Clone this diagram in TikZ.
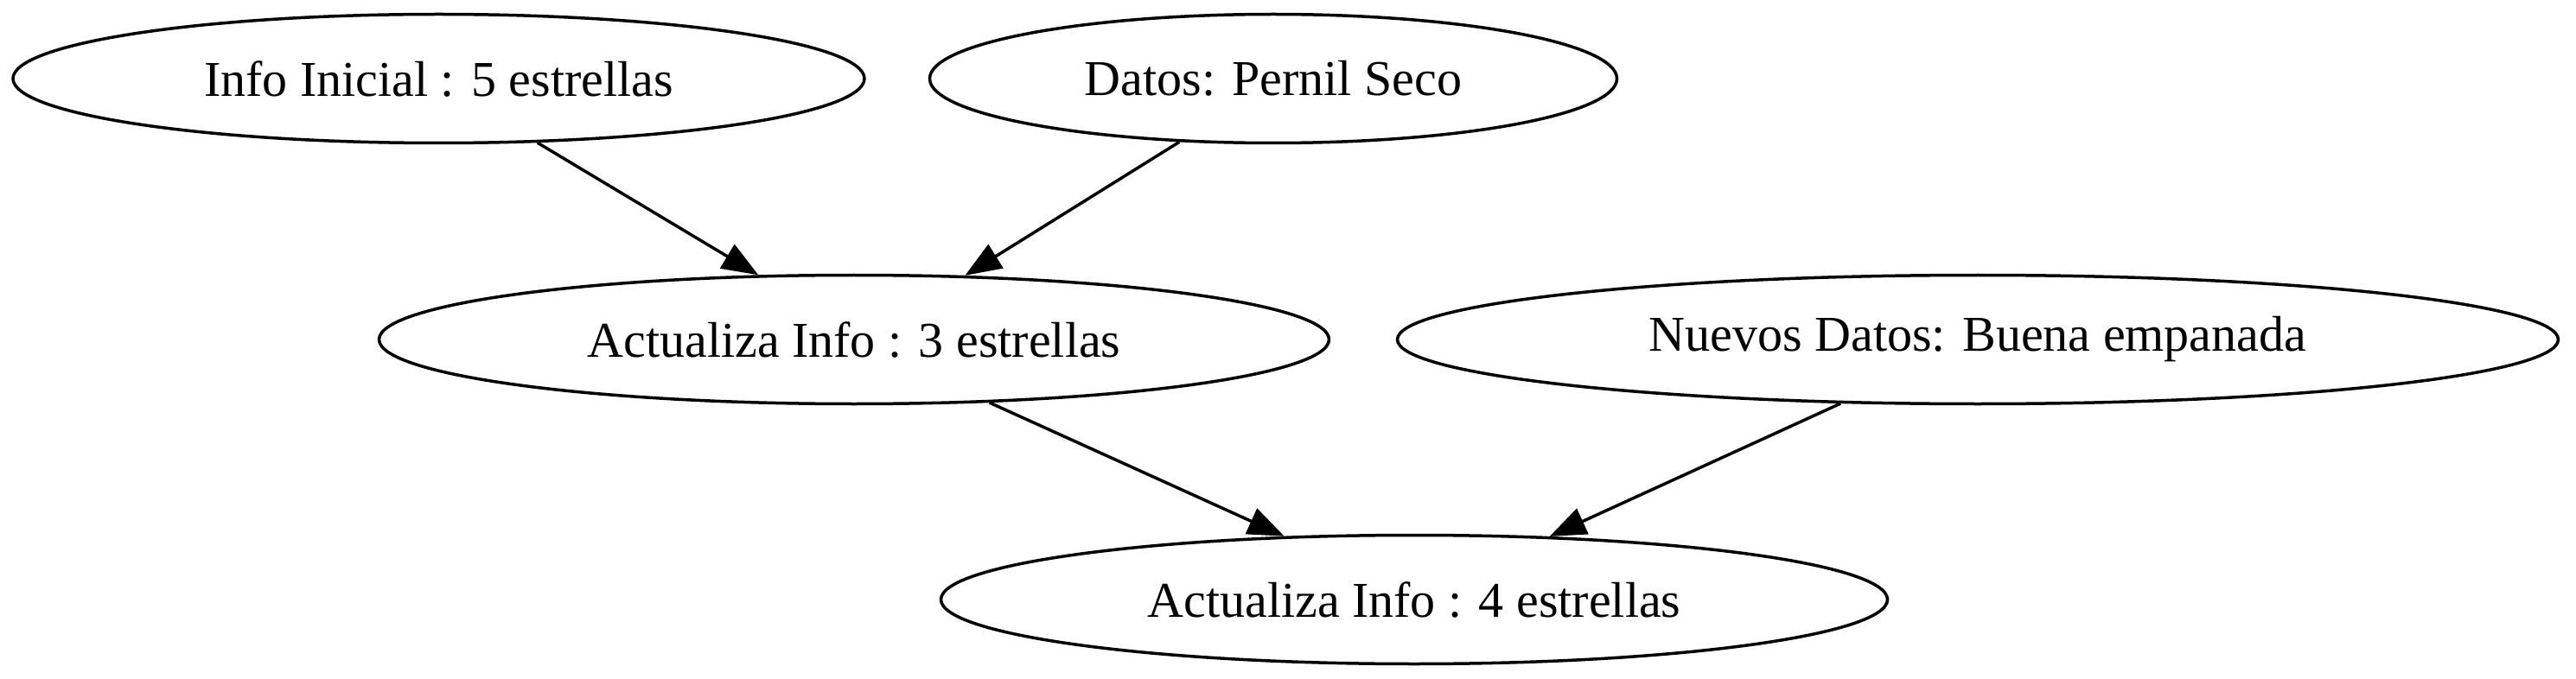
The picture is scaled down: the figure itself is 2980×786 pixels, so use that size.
\documentclass[tikz,border=0pt]{standalone}
\usepackage{fontspec}
\setmainfont{Liberation Serif}
\usetikzlibrary{shapes.geometric,arrows.meta}
\begin{document}
\begin{tikzpicture}[x=1pt,y=-1pt,
  gvnode/.style={ellipse,draw,line width=3.5pt,inner sep=0pt,minimum height=149pt,
    font=\fontsize{58}{70}\selectfont},
  gvedge/.style={line width=3.5pt,-{Triangle[length=42pt,width=32pt]}}]
\useasboundingbox (0,0) rectangle (2980,786);
\node[gvnode,minimum width=985pt] (a) at (507.5,91) {Info Inicial : 5 estrellas};
\node[gvnode,minimum width=795pt] (b) at (1473,91) {Datos: Pernil Seco};
\node[gvnode,minimum width=1099pt] (c) at (988,393) {Actualiza Info : 3 estrellas};
\node[gvnode,minimum width=1343pt] (d) at (2288,393) {Nuevos Datos: Buena empanada};
\node[gvnode,minimum width=1095pt] (e) at (1636,694) {Actualiza Info : 4 estrellas};
\draw[gvedge] (a.-33) -- (c.146.5);
\draw[gvedge] (b.-146.3) -- (c.30);
\draw[gvedge] (c.-25.6) -- (e.154);
\draw[gvedge] (d.-155) -- (e.25);
\end{tikzpicture}
\end{document}
